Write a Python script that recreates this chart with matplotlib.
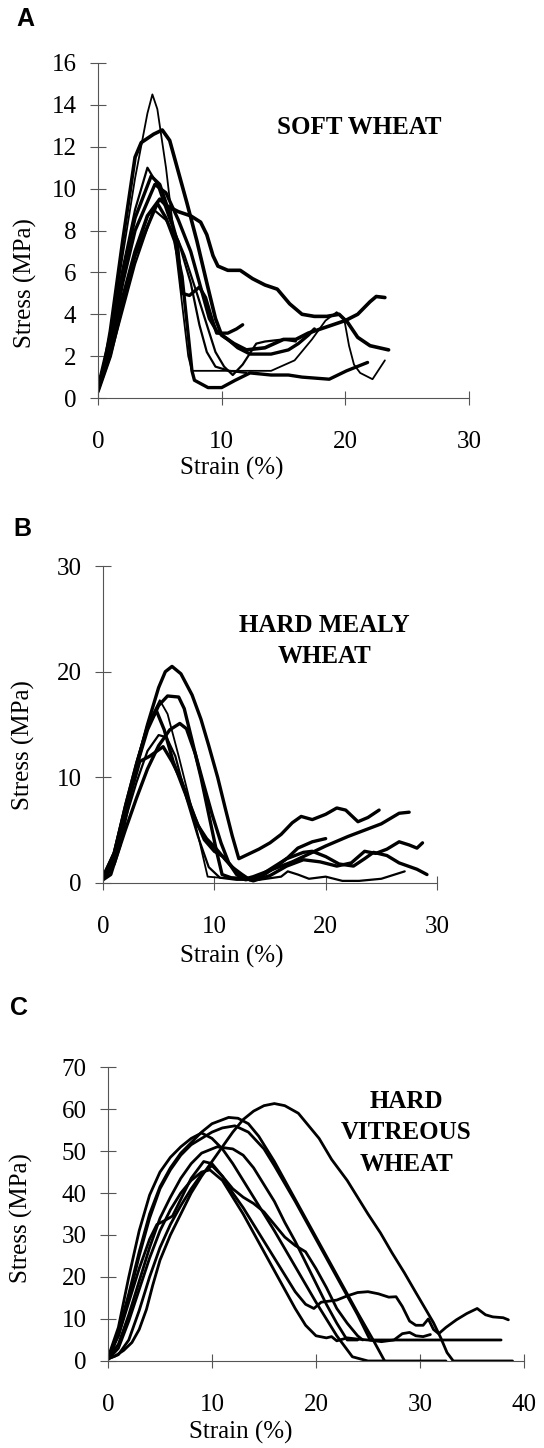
import matplotlib
matplotlib.use("Agg")
import matplotlib.pyplot as plt

# ---- data (strain %, stress MPa) ----
soft_strain = [
    [0, 1, 2, 3, 4, 4.4, 4.8, 5.5, 6.2, 6.8, 7.3, 7.6, 8.9, 10.6, 12, 14, 15.9, 17.3, 18.4, 19.3, 19.9, 20.3, 20.7, 21.2, 22.2, 23.2],
    [0, 0.5, 1, 2, 3, 3.5, 4.5, 5.2, 5.8, 6.5, 7.2, 8, 8.8, 9.5, 10, 11, 12, 13.5, 15, 16, 17, 18.5, 20, 21, 22, 22.5, 23.2],
    [0, 1, 2, 3, 4, 5, 5.5, 6.5, 7.5, 8.3, 8.8, 9.3, 9.7, 10.5, 11.5, 12.5, 13.5, 14.5, 15.5, 16.5, 17.5, 18.5, 19.5, 20.2, 21, 22, 23.5],
    [0, 1, 2, 3, 4.3, 5, 5.8, 6.4, 6.8, 7.4, 8.2, 8.7, 9.2, 9.6, 10.5, 11.2, 11.7],
    [0, 1, 2, 3, 4.6, 5.5, 6.5, 7.5, 8.3, 9, 9.6, 10.5, 11.3, 12.3, 14, 15.4, 16.2, 17, 17.5],
    [0, 1, 2, 3, 4.8, 5.5, 6.2, 6.8, 7.3, 7.6, 7.8, 8.9, 10, 11.1, 12.3, 14, 15.4, 16.5, 18.7, 20.1, 21.8],
    [0, 1, 2, 3, 4, 4.8, 5.8, 7, 8, 8.8, 9.5, 10.2, 10.9, 11.7, 12.8, 13.5, 15, 16],
    [0, 1, 2, 3, 4.5, 5.5, 6.5, 7.5, 8.2, 8.8, 9.5, 10.6, 12],
]
soft_stress = [
    [0.4, 3.0, 6.8, 10.5, 13.6, 14.5, 13.8, 11, 7.5, 4.5, 2.0, 1.3, 1.3, 1.3, 1.3, 1.3, 1.8, 2.8, 3.7, 4.1, 3.8, 2.5, 1.6, 1.2, 0.9, 1.8],
    [0.5, 1.5, 3.2, 7.5, 11.5, 12.2, 12.6, 12.8, 12.3, 10.8, 9.3, 7.5, 5.5, 3.8, 3.0, 2.6, 2.3, 2.4, 2.8, 2.8, 3.1, 3.4, 3.7, 4.0, 4.6, 4.85, 4.8],
    [0.4, 2.3, 4.8, 7.0, 8.7, 9.5, 9.2, 8.9, 8.7, 8.4, 7.8, 6.8, 6.3, 6.1, 6.1, 5.7, 5.4, 5.2, 4.5, 4.0, 3.9, 3.9, 4.0, 3.6, 2.9, 2.5, 2.3],
    [0.5, 3.0, 6.0, 8.6, 10.6, 10.2, 8.8, 7.5, 5.0, 4.9, 5.3, 4.8, 3.8, 3.1, 3.1, 3.3, 3.5],
    [0.5, 2.5, 5.5, 8.0, 10.2, 9.8, 8.5, 7.0, 5.3, 3.8, 3.2, 2.8, 2.4, 2.1, 2.1, 2.3, 2.6, 3.0, 3.3],
    [0.3, 2.0, 4.5, 6.8, 9.3, 8.6, 7.5, 5.8, 3.0, 1.3, 0.85, 0.5, 0.5, 0.85, 1.2, 1.1, 1.1, 1.0, 0.9, 1.3, 1.7],
    [0.4, 3.0, 6.2, 9.0, 11.0, 10.2, 8.5, 6.8, 5.0, 3.5, 2.2, 1.5, 1.1, 1.6, 2.6, 2.7, 2.8, 2.7],
    [0.3, 2.0, 4.2, 6.4, 9.0, 8.5, 7.5, 5.5, 3.5, 2.2, 1.5, 1.3, 1.2],
]
soft_width = [1.3, 2.6, 2.6, 2.4, 2.4, 2.4, 1.6, 1.6]

mealy_strain = [
    [0, 0.5, 1, 2, 3, 4, 5, 5.6, 6.2, 7, 8, 8.8, 9.5, 10.3, 11, 11.6, 12.2, 13, 14, 15, 16, 17, 17.8, 18.8, 20, 21, 21.8, 22.9, 23.8, 24.8],
    [0, 1, 2, 3, 4, 5, 5.8, 6.8, 7.3, 8, 8.8, 9.5, 10.2, 10.7, 11.5, 12.8, 13.5, 15, 17, 20, 22, 25, 26.6, 27.5],
    [0, 1, 2, 3, 4, 5.1, 5.8, 6.8, 7.8, 8.7, 9.4, 10.5, 12, 13],
    [0, 1, 2, 3, 4, 4.8, 5.5, 6.3, 7.2, 8.2, 9.1, 10, 10.8, 11.6, 12.5, 13.2, 14.2, 15.5, 16.6, 17.5, 18.8, 20],
    [0, 1, 2, 3, 4, 5, 6, 6.9, 7.5, 8.3, 9, 9.8, 10.6, 11.3, 12, 12.8, 13.8, 15, 16.5, 18, 18.8, 20, 21.2, 22.5, 23.5, 24.3, 25.5, 26.6, 28.2, 29.1],
    [0, 0.7, 1.5, 2.5, 3.3, 4.2, 5.4, 6.2, 7, 7.8, 8.5, 9.3, 10.2, 11, 11.8, 12.6, 13.5, 15, 16.5, 18, 19.5, 21, 22.3, 23.5, 24.5, 25.5, 26.6, 27.5, 28.2, 28.7],
    [0, 1, 2, 3, 4, 5, 5.7, 6.5, 7.5, 8.5, 9.5, 10.5, 12, 14, 16, 16.6, 17.5, 18.5, 20, 21.5, 23, 25, 27.1],
]
mealy_stress = [
    [0.5, 1.0, 2.5, 6.5, 11, 15, 18.5, 20.0, 20.5, 19.8, 17.8, 15.5, 13.0, 10.0, 7.0, 4.5, 2.3, 2.7, 3.2, 3.8, 4.6, 5.7, 6.3, 6.0, 6.5, 7.1, 6.9, 5.8, 6.2, 6.9],
    [0.6, 2.8, 7.0, 11.0, 14.5, 16.8, 17.7, 17.6, 16.5, 13.5, 10.0, 6.5, 3.0, 0.8, 0.5, 0.4, 0.6, 1.2, 2.0, 3.5, 4.4, 5.6, 6.6, 6.7],
    [0.5, 3.0, 7.5, 11.5, 15.0, 17.3, 16.0, 12.0, 7.8, 3.8, 0.6, 0.5, 0.4, 0.3],
    [0.5, 2.8, 7.2, 11.2, 14.8, 16.3, 14.5, 11.5, 9.0, 6.3, 4.1, 3.0, 2.5, 1.5, 0.8, 0.3, 0.6, 1.5, 2.4, 3.3, 3.9, 4.2],
    [0.4, 1.8, 5.0, 8.0, 10.8, 13.0, 14.5, 15.1, 14.6, 12.2, 9.5, 6.5, 3.8, 1.9, 0.8, 0.3, 0.5, 1.3, 2.3, 2.9, 3.0, 2.5, 1.8, 1.6, 2.3, 2.9, 2.6, 1.9, 1.3, 0.8],
    [0.3, 0.8, 3.5, 8.5, 11.5, 12.0, 12.9, 11.5, 9.8, 7.5, 5.5, 4.2, 3.2, 2.2, 1.3, 0.5, 0.2, 0.7, 1.6, 2.2, 2.0, 1.6, 1.9, 3.0, 2.8, 3.2, 3.9, 3.6, 3.3, 3.8],
    [0.4, 2.5, 6.0, 9.5, 12.5, 14.0, 13.8, 12.0, 8.0, 4.5, 1.5, 0.5, 0.3, 0.3, 0.6, 1.1, 0.8, 0.4, 0.6, 0.2, 0.2, 0.4, 1.1],
]
mealy_width = [2.4, 2.4, 1.3, 2.4, 2.4, 2.4, 1.6]

vitreous_strain = [
    [0, 0.7, 1.5, 2.3, 3, 3.7, 4.3, 5, 6, 7, 8, 9, 10, 11, 12, 13, 14, 15, 16, 17, 18.3, 19.3, 20.3, 21.5, 23, 24, 25, 26.2, 27.3, 28.5, 29.6, 30.5, 31.3, 32, 32.6, 33.2, 38.9],
    [0, 0.5, 1, 2, 3, 4, 5, 6, 7, 8, 9, 10, 11.6, 12.5, 13.5, 14.5, 16, 18, 20, 22, 24, 25.5, 26.6],
    [0, 1, 2, 3, 4, 5, 6, 7, 8, 9, 10, 11, 12.2, 13.5, 15, 16, 18, 20, 22, 24, 25.2, 37.8],
    [0, 1, 2, 3, 4, 5, 6, 7, 8, 9, 10, 11, 12, 14, 16, 18, 20, 22, 23.5, 25, 32.5],
    [0, 1, 2, 3, 4, 5, 6, 7, 8, 9, 10.5, 12, 13, 14, 15, 16, 17, 18, 19, 20, 21, 22, 23, 24],
    [0, 1, 2, 3, 4, 4.7, 5.5, 6.2, 7, 8, 9.2, 10, 11, 12, 13, 14, 15, 16, 17, 18, 19, 20, 21, 22, 23, 24, 24.5],
    [0, 1, 2, 3, 4, 5, 6, 7, 8, 9, 10, 11, 12, 13, 14, 15, 16, 17, 18, 19, 19.8, 20.5, 22, 23, 24, 25, 26, 27, 27.7, 28.3, 29, 29.6, 30.3, 30.8, 31.3, 31.8, 32.5, 33.5, 34.5, 35.5, 36.3, 37, 38, 38.5],
    [0, 1, 2, 3, 4, 5, 6, 7, 8, 9, 9.8, 11, 12, 13, 14, 15, 16, 17, 18, 19, 20, 21, 21.5, 22, 23, 24, 25, 26.3, 27.5, 28.3, 29, 29.6, 30.3, 31],
]
vitreous_stress = [
    [0.5, 1.2, 2.5, 4.4, 7.5, 12.3, 18, 24, 30, 35, 40, 44, 47.5, 51, 54.5, 57.5, 59.5, 60.8, 61.3, 60.8, 59, 56, 53, 48, 43, 39, 35, 30.5, 25.8, 21, 16.3, 12.5, 9.1, 5.5, 2, 0, 0],
    [1, 3, 7, 16, 26, 35, 41.5, 46, 49.5, 52, 54.5, 56.5, 58, 57.8, 56.5, 53.5, 47.5, 38.5, 29.5, 20.5, 11.5, 5, 0],
    [1, 6, 15, 25, 34, 41, 45.5, 49, 51.5, 53, 54.5, 55.5, 56, 54.5, 50.5, 46.5, 38, 29, 20, 11, 5, 5],
    [0.8, 8, 20, 31, 39.5, 45, 48.5, 51, 53, 54.3, 53, 50.5, 47, 39, 31, 22.5, 14, 6, 1, 0, 0],
    [0.5, 4, 11, 19, 27, 34, 39, 43.5, 47, 49.5, 51, 50.5, 49, 46, 42, 38, 33, 28.5, 23.5, 18.5, 13.5, 9, 5, 5],
    [0.8, 6, 14, 22, 29, 32.5, 33.5, 34.5, 38.5, 43.5, 47.5, 47, 44, 41, 39, 37.5, 35.5, 32.5, 29.5, 27.5, 26, 22, 17.5, 12.5, 9, 6, 5],
    [0.5, 1.5, 5, 12, 20, 27, 32.5, 37, 41, 44.5, 46.5, 44, 40, 36.5, 32.5, 28.5, 24.5, 20.5, 16.5, 13.5, 12.5, 14, 14.5, 15.5, 16.3, 16.5, 16, 15.2, 15.3, 13, 9.5, 8.5, 8.5, 10, 7.5, 6.5, 8, 9.8, 11.3, 12.5, 11, 10.5, 10.3, 9.8],
    [0.3, 3, 9.5, 17, 24.5, 31, 36, 40, 43, 45, 45.5, 43, 39, 35, 30.5, 26, 21.5, 17, 12.5, 8.5, 6, 5.5, 5.8, 4.8, 5.5, 5.2, 5.0, 4.6, 5.0, 6.5, 6.8, 6.0, 5.8, 6.3],
]
vitreous_width = [2.0] * 8

panels = [
    dict(strain=soft_strain, stress=soft_stress, widths=soft_width,
         rect=[0.1801, 0.7251, 0.6820, 0.2314], xlim=30, ylim=16,
         xticks=[0, 10, 20, 30], yticks=list(range(0, 17, 2)),
         name="SOFT WHEAT", name_xy=(21.1, 12.9), letter="A", letter_xy=(0.046, 0.9869),
         xlab=(0.36, -0.175), ylab=(-0.164, 0.343)),
    dict(strain=mealy_strain, stress=mealy_stress, widths=mealy_width,
         rect=[0.1893, 0.3902, 0.6140, 0.2189], xlim=30, ylim=30,
         xticks=[0, 10, 20, 30], yticks=[0, 10, 20, 30],
         name="HARD MEALY\nWHEAT", name_xy=(19.9, 22.9), letter="B", letter_xy=(0.0404, 0.6347),
         xlab=(0.386, -0.196), ylab=(-0.204, 0.435)),
    dict(strain=vitreous_strain, stress=vitreous_stress, widths=vitreous_width,
         rect=[0.1985, 0.0601, 0.7647, 0.2030], xlim=40, ylim=70,
         xticks=[0, 10, 20, 30, 40], yticks=list(range(0, 71, 10)),
         name="HARD\nVITREOUS\nWHEAT", name_xy=(28.7, 54.3), letter="C", letter_xy=(0.0349, 0.3039),
         xlab=(0.32, -0.205), ylab=(-0.18, 0.486)),
]

serif = "Liberation Serif"
fig = plt.figure(figsize=(5.44, 14.48), dpi=100)

for p in panels:
    ax = fig.add_axes(p["rect"])
    for xs, ys, lw in zip(p["strain"], p["stress"], p["widths"]):
        ax.plot(xs, ys, color="black", lw=lw, solid_capstyle="round", solid_joinstyle="round")
    ax.set_xlim(0, p["xlim"])
    ax.set_ylim(0, p["ylim"])
    ax.set_xticks(p["xticks"])
    ax.set_yticks(p["yticks"])
    for s in ["top", "right"]:
        ax.spines[s].set_visible(False)
    for s in ["left", "bottom"]:
        ax.spines[s].set_color("#555555")
        ax.spines[s].set_linewidth(0.8)
    ax.tick_params(axis="y", direction="inout", length=11, width=0.8, color="#555555", pad=10)
    ax.tick_params(axis="x", direction="inout", length=10, width=0.8, color="#555555", pad=19)
    for lab in ax.get_xticklabels() + ax.get_yticklabels():
        lab.set_fontfamily(serif)
        lab.set_fontsize(18)
    ax.set_xlabel("Strain (%)", fontfamily=serif, fontsize=18)
    ax.set_ylabel("Stress (MPa)", fontfamily=serif, fontsize=18)
    ax.xaxis.set_label_coords(*p["xlab"])
    ax.yaxis.set_label_coords(*p["ylab"])
    ax.text(p["name_xy"][0], p["name_xy"][1], p["name"], fontfamily=serif, fontsize=18,
            fontweight="bold", ha="center", va="center", linespacing=1.45)
    fig.text(p["letter_xy"][0], p["letter_xy"][1], p["letter"], fontfamily="Liberation Sans",
             fontsize=18, fontweight="bold", ha="center", va="center")

fig.savefig("out.png", dpi=100)
